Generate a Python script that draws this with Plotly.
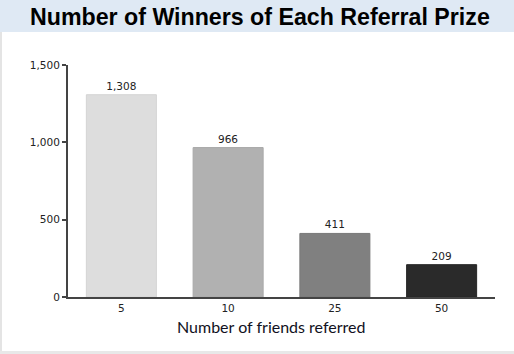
import plotly.graph_objects as go

categories = ["5", "10", "25", "50"]
winners = [1308, 966, 411, 209]
bar_colors = ["#dddddd", "#b1b1b1", "#808080", "#2a2a2a"]
edge_colors = ["#d4d4d4", "#a8a8a8", "#787878", "#262626"]
y_ticks = [0, 500, 1000, 1500]

W, H = 514, 354
L, R, T, B = 68, 19, 65, 57
PW, PH = W - L - R, H - T - B


def px(x):
    return (x - L) / PW


def py(y):
    return (H - B - y) / PH


fig = go.Figure(go.Bar(
    x=categories, y=winners,
    marker=dict(color=bar_colors, line=dict(color=edge_colors, width=1)),
    texttemplate="%{y:,}", textposition="outside",
    textfont=dict(family="DejaVu Sans", size=10.5, color="#222222"),
    cliponaxis=False,
))

fig.update_layout(
    width=W, height=H,
    margin=dict(l=L, r=R, t=T, b=B, autoexpand=False),
    paper_bgcolor="white", plot_bgcolor="white",
    showlegend=False,
    bargap=0.344,
    xaxis=dict(
        type="category", automargin=False,
        showline=True, linecolor="#444444", linewidth=2,
        showgrid=False, ticks="",
        tickfont=dict(family="DejaVu Sans", size=10.5, color="#222222"),
    ),
    yaxis=dict(
        range=[0, 1500], automargin=False,
        tickvals=y_ticks, tickformat=",",
        showline=True, linecolor="#444444", linewidth=2,
        showgrid=False, zeroline=False,
        ticks="outside", ticklen=4, tickcolor="#444444", tickwidth=1.5,
        tickfont=dict(family="DejaVu Sans", size=10.5, color="#222222"),
    ),
    shapes=[
        dict(type="rect", xref="paper", yref="paper", x0=px(0), x1=px(W),
             y0=py(32), y1=py(0), fillcolor="#dfe9f4", line=dict(width=0), layer="below"),
        dict(type="rect", xref="paper", yref="paper", x0=px(0), x1=px(2),
             y0=py(H), y1=py(32), fillcolor="#e4e4e4", line=dict(width=0), layer="below"),
        dict(type="rect", xref="paper", yref="paper", x0=px(0), x1=px(W),
             y0=py(H), y1=py(351), fillcolor="#e8e8e8", line=dict(width=0), layer="below"),
    ],
    annotations=[
        dict(text="<b>Number of Winners of Each Referral Prize</b>",
             xref="paper", yref="paper", x=px(260), y=py(17),
             xanchor="center", yanchor="middle", showarrow=False,
             font=dict(family="Liberation Sans", size=23.2, color="#000000")),
        dict(text="Number of friends referred",
             xref="paper", yref="paper", x=px(271), y=py(326),
             xanchor="center", yanchor="middle", showarrow=False,
             font=dict(family="Lato", size=16, color="#111122")),
    ],
)

fig.write_html("out.html")
